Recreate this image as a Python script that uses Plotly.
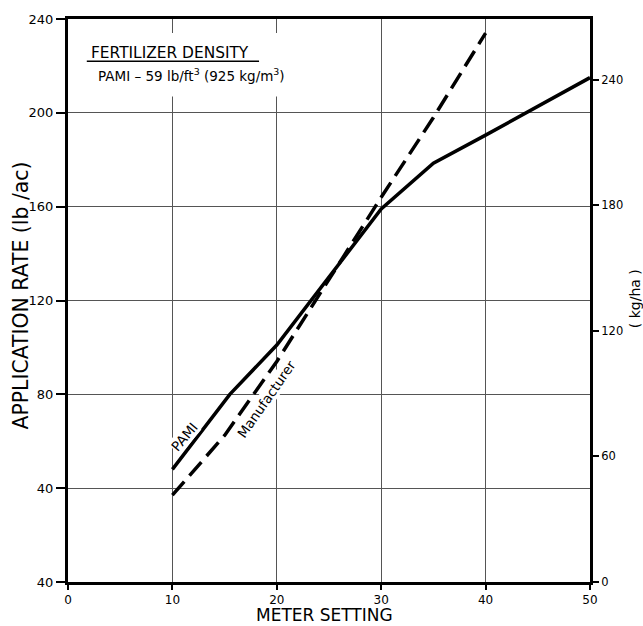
import plotly.graph_objects as go

# ---- data ----
meter_pami = [10, 15.5, 20, 30, 35, 40, 50]
rate_pami = [48, 80, 101, 159, 178.5, 190.5, 215]

meter_mfr = [10, 15, 20, 25, 30, 35, 40]
rate_mfr = [37, 62.5, 94, 129, 164, 198, 234]

x_ticks = [0, 10, 20, 30, 40, 50]
y_ticks = [0, 40, 80, 120, 160, 200, 240]
y_tick_text = ["40", "40", "80", "120", "160", "200", "240"]
kg_ticks = [0, 60, 120, 180, 240]
LB_AC_TO_KG_HA = 1.12085

FONT = "DejaVu Sans"

fig = go.Figure()
fig.add_trace(go.Scatter(x=meter_pami, y=rate_pami, mode="lines", name="PAMI",
                         line=dict(color="black", width=3.5)))
fig.add_trace(go.Scatter(x=meter_mfr, y=rate_mfr, mode="lines", name="Manufacturer",
                         line=dict(color="black", width=3.5, dash="18px,8px")))
# invisible trace to activate the right axis
fig.add_trace(go.Scatter(x=[0, 50], y=[0, 240 * LB_AC_TO_KG_HA], yaxis="y2",
                         mode="lines", line=dict(width=0), hoverinfo="skip",
                         showlegend=False, opacity=0))

fig.update_layout(
    width=643, height=626,
    margin=dict(l=68, r=53, t=16, b=44),
    paper_bgcolor="white", plot_bgcolor="white",
    showlegend=False,
    font=dict(family=FONT, color="black"),
    xaxis=dict(range=[0, 50], tickvals=x_ticks, ticks="outside", ticklen=5,
               tickwidth=2, tickcolor="black",
               showgrid=True, gridcolor="#555", gridwidth=1,
               showline=True, linecolor="black", linewidth=3, mirror=True,
               zeroline=False, tickfont=dict(size=12, family=FONT)),
    yaxis=dict(range=[0, 240], tickvals=y_ticks, ticktext=y_tick_text,
               ticks="outside", ticklen=9, tickwidth=2, tickcolor="black",
               showgrid=True, gridcolor="#555", gridwidth=1,
               showline=True, linecolor="black", linewidth=3,
               zeroline=False, tickfont=dict(size=13, family=FONT)),
    yaxis2=dict(range=[0, 240 * LB_AC_TO_KG_HA], tickvals=kg_ticks,
                overlaying="y", side="right", ticks="outside", ticklen=6,
                tickwidth=2, tickcolor="black", showgrid=False,
                showline=True, linecolor="black", linewidth=3,
                zeroline=False, tickfont=dict(size=11.5, family=FONT)),
)

annotations = [
    dict(x=9.8, y=225.5, xref="x", yref="y", text="FERTILIZER DENSITY",
         showarrow=False, font=dict(size=15.4, family=FONT, color="black")),
    dict(x=11.8, y=216.3, xref="x", yref="y",
         text="PAMI – 59 lb/ft<sup>3</sup> (925 kg/m<sup>3</sup>)",
         showarrow=False, font=dict(size=13.5, family=FONT, color="black")),
    # line labels
    dict(x=11.1, y=62, xref="x", yref="y", text="PAMI", textangle=-50,
         showarrow=False, bgcolor="white", borderpad=0,
         font=dict(size=13.5, family=FONT, color="black")),
    dict(x=19.0, y=78.0, xref="x", yref="y", text="Manufacturer", textangle=-55,
         showarrow=False, bgcolor="white", borderpad=0,
         font=dict(size=13.5, family=FONT, color="black")),
    # axis titles
    dict(x=-0.090, y=0.509, xref="paper", yref="paper",
         text="APPLICATION RATE (lb /ac)", textangle=-90, showarrow=False,
         xanchor="center", yanchor="middle",
         font=dict(size=20.4, family=FONT, color="black")),
    dict(x=0.4923, y=-0.0777, xref="paper", yref="paper",
         text="METER SETTING", showarrow=False, xanchor="center", yanchor="bottom",
         borderpad=0, font=dict(size=17, family=FONT, color="black")),
    dict(x=1.085, y=0.503, xref="paper", yref="paper",
         text="( kg/ha )", textangle=-90, showarrow=False,
         xanchor="center", yanchor="middle",
         font=dict(size=14, family=FONT, color="black")),
]
fig.update_layout(annotations=annotations)

# white box behind the density note (covers gridlines, under the traces)
fig.add_shape(type="rect", xref="x", yref="y", x0=1.6, x1=21.5, y0=207, y1=234,
              fillcolor="white", line=dict(width=0), layer="between")
# underline of the density heading
fig.add_shape(type="line", xref="x", yref="y", x0=1.8, x1=18.3, y0=222.0, y1=222.0,
              line=dict(color="black", width=1.5), layer="above")

fig.write_html("out.html", config={"displayModeBar": False},
               post_script="document.body.style.margin='0';")
